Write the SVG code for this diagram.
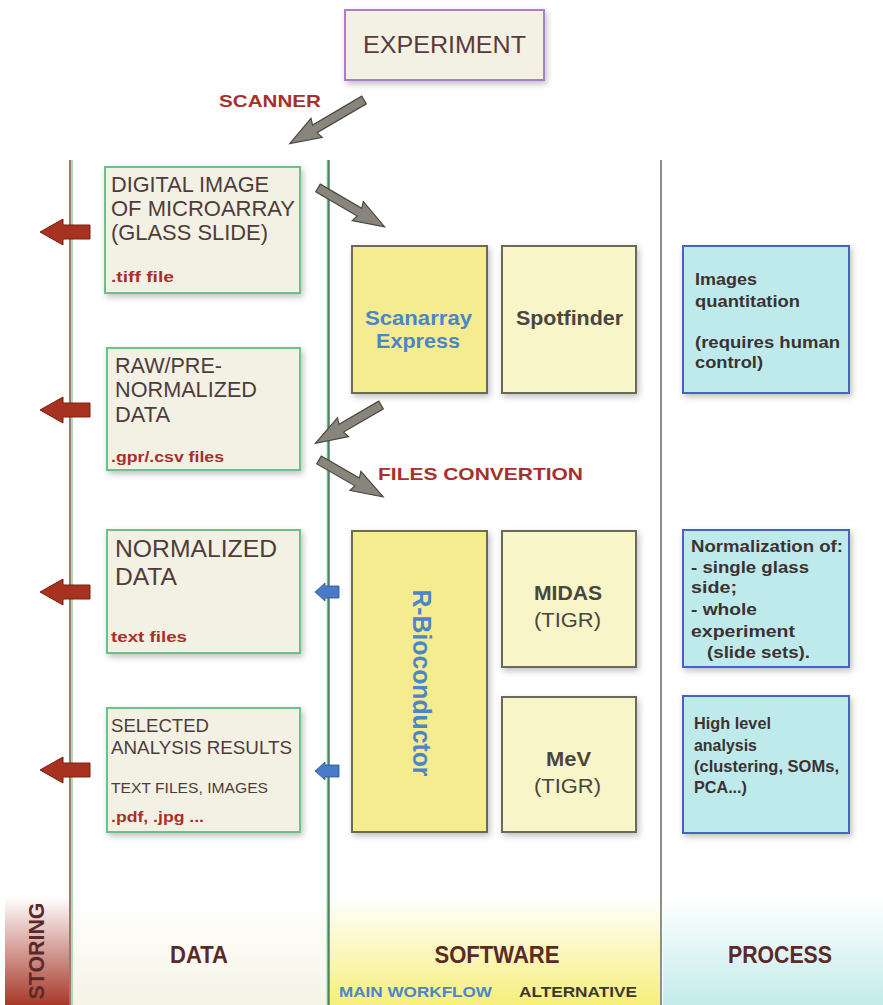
<svg xmlns="http://www.w3.org/2000/svg" width="883" height="1005" viewBox="0 0 883 1005">
<defs>
<style>
.t{font-family:"Liberation Sans",Arial,sans-serif;}
.data{fill:#f3f1e4;stroke:#6cc08a;stroke-width:2;filter:url(#sh);}
.sw{fill:#f5ec90;stroke:#6a6a58;stroke-width:2;filter:url(#sh);}
.sw2{fill:#f8f5c9;stroke:#6a6a58;stroke-width:2;filter:url(#sh);}
.pr{fill:#bfeaeb;stroke:#4a62c4;stroke-width:2;filter:url(#sh);}
.dt{font-size:21.5px;fill:#4e3c3c;}
.ext{font-size:15px;font-weight:bold;fill:#a8302a;}
.swt{font-size:21px;font-weight:bold;fill:#4a4540;}
.blue{fill:#4a86c8;}
.prt{font-size:16.5px;font-weight:bold;fill:#3c3232;}
.red{font-size:17px;font-weight:bold;fill:#a8302a;}
.garrow{fill:#8a857c;stroke:#4a4a44;stroke-width:1.2;}
.rarrow{fill:#a83220;stroke:#7a2010;stroke-width:1;}
.barrow{fill:#4a7ac8;stroke:#2a5090;stroke-width:0.8;}
.col{font-size:24px;font-weight:bold;fill:#5a2a2a;}
</style>
<filter id="sh" x="-10%" y="-10%" width="125%" height="125%">
<feDropShadow dx="2" dy="3" stdDeviation="3" flood-color="#000" flood-opacity="0.25"/>
</filter>
<linearGradient id="gStore" x1="0" y1="0" x2="0" y2="1">
<stop offset="0" stop-color="#ffffff"/><stop offset="1" stop-color="#a8382a"/>
</linearGradient>
<linearGradient id="gData" x1="0" y1="0" x2="0" y2="1">
<stop offset="0" stop-color="#ffffff"/><stop offset="1" stop-color="#f6f4e6"/>
</linearGradient>
<linearGradient id="gSoft" x1="0" y1="0" x2="0" y2="1">
<stop offset="0" stop-color="#ffffff"/><stop offset="1" stop-color="#f6ef7c"/>
</linearGradient>
<linearGradient id="gProc" x1="0" y1="0" x2="0" y2="1">
<stop offset="0" stop-color="#ffffff"/><stop offset="1" stop-color="#c4ebea"/>
</linearGradient>
</defs>
<rect width="883" height="1005" fill="#ffffff"/>

<g id="bands">
<rect x="5" y="897" width="64" height="108" fill="url(#gStore)"/>
<rect x="71" y="897" width="257" height="108" fill="url(#gData)"/>
<rect x="330" y="897" width="331" height="108" fill="url(#gSoft)"/>
<rect x="663" y="897" width="220" height="108" fill="url(#gProc)"/>
</g>

<g id="lanes">
<line x1="70" y1="160" x2="70" y2="1005" stroke="#9a7a68" stroke-width="2"/>
<line x1="72" y1="160" x2="72" y2="1005" stroke="#8fd0a0" stroke-width="1.5"/>
<line x1="328" y1="160" x2="328" y2="1005" stroke="#66c088" stroke-width="2.5"/>
<line x1="329" y1="160" x2="329" y2="1005" stroke="#2e4a3a" stroke-width="1"/>
<line x1="661" y1="160" x2="661" y2="1005" stroke="#8a908c" stroke-width="2"/>
</g>

<g id="experiment">
<rect x="345" y="10" width="199" height="70" fill="#f3f0e4" stroke="#b07cc8" stroke-width="2" filter="url(#sh)"/>
<text class="t" x="363" y="53" font-size="24" fill="#5a3a3a" textLength="163" lengthAdjust="spacingAndGlyphs">EXPERIMENT</text>
</g>

<g id="data1">
<rect class="data" x="105" y="167" width="195" height="126"/>
<text class="t dt" x="111" y="192" textLength="158" lengthAdjust="spacingAndGlyphs">DIGITAL IMAGE</text>
<text class="t dt" x="111" y="216" textLength="184" lengthAdjust="spacingAndGlyphs">OF MICROARRAY</text>
<text class="t dt" x="111" y="240" textLength="157" lengthAdjust="spacingAndGlyphs">(GLASS SLIDE)</text>
<text class="t ext" x="111" y="282" textLength="63" lengthAdjust="spacingAndGlyphs">.tiff file</text>
</g>
<g id="data2">
<rect class="data" x="107" y="348" width="193" height="122"/>
<text class="t dt" x="115" y="373" textLength="107" lengthAdjust="spacingAndGlyphs">RAW/PRE-</text>
<text class="t dt" x="115" y="397" textLength="142" lengthAdjust="spacingAndGlyphs">NORMALIZED</text>
<text class="t dt" x="115" y="422" textLength="55" lengthAdjust="spacingAndGlyphs">DATA</text>
<text class="t ext" x="111" y="462" textLength="113" lengthAdjust="spacingAndGlyphs">.gpr/.csv files</text>
</g>
<g id="data3">
<rect class="data" x="107" y="530" width="193" height="123"/>
<text class="t" x="115" y="557" font-size="23" fill="#4e3c3c" textLength="162" lengthAdjust="spacingAndGlyphs">NORMALIZED</text>
<text class="t" x="115" y="585" font-size="23" fill="#4e3c3c" textLength="62" lengthAdjust="spacingAndGlyphs">DATA</text>
<text class="t ext" x="111" y="642" textLength="76" lengthAdjust="spacingAndGlyphs">text files</text>
</g>
<g id="data4">
<rect class="data" x="107" y="708" width="193" height="124"/>
<text class="t" x="111" y="732" font-size="18" fill="#4e3c3c" textLength="98" lengthAdjust="spacingAndGlyphs">SELECTED</text>
<text class="t" x="111" y="754" font-size="18" fill="#4e3c3c" textLength="181" lengthAdjust="spacingAndGlyphs">ANALYSIS RESULTS</text>
<text class="t" x="111" y="793" font-size="15" fill="#4e3c3c" textLength="157" lengthAdjust="spacingAndGlyphs">TEXT FILES, IMAGES</text>
<text class="t ext" x="111" y="822" textLength="93" lengthAdjust="spacingAndGlyphs">.pdf, .jpg ...</text>
</g>

<g id="scanarray">
<rect class="sw" x="352" y="246" width="135" height="147"/>
<text class="t swt blue" x="365" y="325" textLength="107" lengthAdjust="spacingAndGlyphs">Scanarray</text>
<text class="t swt blue" x="376" y="348" textLength="84" lengthAdjust="spacingAndGlyphs">Express</text>
</g>
<g id="spotfinder">
<rect class="sw2" x="502" y="246" width="134" height="147"/>
<text class="t swt" x="516" y="325" textLength="107" lengthAdjust="spacingAndGlyphs">Spotfinder</text>
</g>
<g id="rbioconductor">
<rect class="sw" x="352" y="531" width="135" height="301"/>
<text class="t blue" x="0" y="0" font-size="25" font-weight="bold" text-anchor="middle" textLength="187" lengthAdjust="spacingAndGlyphs" transform="translate(413,683) rotate(90)">R-Bioconductor</text>
</g>
<g id="midas">
<rect class="sw2" x="502" y="531" width="134" height="136"/>
<text class="t swt" x="534" y="600" textLength="68" lengthAdjust="spacingAndGlyphs">MIDAS</text>
<text class="t" x="534" y="627" font-size="21" fill="#4a4540" textLength="67" lengthAdjust="spacingAndGlyphs">(TIGR)</text>
</g>
<g id="mev">
<rect class="sw2" x="502" y="697" width="134" height="135"/>
<text class="t swt" x="546" y="766" textLength="45" lengthAdjust="spacingAndGlyphs">MeV</text>
<text class="t" x="534" y="793" font-size="21" fill="#4a4540" textLength="67" lengthAdjust="spacingAndGlyphs">(TIGR)</text>
</g>

<g id="proc1">
<rect class="pr" x="683" y="246" width="166" height="147"/>
<text class="t prt" x="695" y="285" textLength="62" lengthAdjust="spacingAndGlyphs">Images</text>
<text class="t prt" x="695" y="307" textLength="105" lengthAdjust="spacingAndGlyphs">quantitation</text>
<text class="t prt" x="695" y="348" textLength="145" lengthAdjust="spacingAndGlyphs">(requires human</text>
<text class="t prt" x="695" y="368" textLength="68" lengthAdjust="spacingAndGlyphs">control)</text>
</g>
<g id="proc2">
<rect class="pr" x="683" y="530" width="166" height="137"/>
<text class="t prt" x="691" y="552" textLength="152" lengthAdjust="spacingAndGlyphs">Normalization of:</text>
<text class="t prt" x="691" y="573" textLength="118" lengthAdjust="spacingAndGlyphs">- single glass</text>
<text class="t prt" x="691" y="593" textLength="46" lengthAdjust="spacingAndGlyphs">side;</text>
<text class="t prt" x="691" y="615" textLength="66" lengthAdjust="spacingAndGlyphs">- whole</text>
<text class="t prt" x="691" y="637" textLength="104" lengthAdjust="spacingAndGlyphs">experiment</text>
<text class="t prt" x="707" y="658" textLength="103" lengthAdjust="spacingAndGlyphs">(slide sets).</text>
</g>
<g id="proc3">
<rect class="pr" x="683" y="696" width="166" height="137"/>
<text class="t prt" x="694" y="729" textLength="77" lengthAdjust="spacingAndGlyphs">High level</text>
<text class="t prt" x="694" y="751" textLength="63" lengthAdjust="spacingAndGlyphs">analysis</text>
<text class="t prt" x="694" y="772" textLength="145" lengthAdjust="spacingAndGlyphs">(clustering, SOMs,</text>
<text class="t prt" x="694" y="793" textLength="53" lengthAdjust="spacingAndGlyphs">PCA...)</text>
</g>

<g id="labels">
<text class="t red" x="219" y="107" textLength="102" lengthAdjust="spacingAndGlyphs">SCANNER</text>
<text class="t red" x="378" y="480" textLength="205" lengthAdjust="spacingAndGlyphs">FILES CONVERTION</text>
</g>

<g id="connectors">
<path class="garrow" transform="translate(364,100) rotate(149.6)" d="M0,-4.5 L57,-4.5 L55,-11 L86,0 L55,11 L57,4.5 L0,4.5 Z"/>
<path class="garrow" transform="translate(318,188) rotate(30.2)" d="M0,-4.5 L48,-4.5 L46,-11 L77,0 L46,11 L48,4.5 L0,4.5 Z"/>
<path class="garrow" transform="translate(381,405) rotate(149.7)" d="M0,-4.5 L46,-4.5 L44,-11 L76,0 L44,11 L46,4.5 L0,4.5 Z"/>
<path class="garrow" transform="translate(319,460) rotate(29.9)" d="M0,-4.5 L44,-4.5 L42,-11 L74,0 L42,11 L44,4.5 L0,4.5 Z"/>
<path class="rarrow" d="M40,232 L63,219 L63,225 L90,225 L90,239 L63,239 L63,245 Z"/>
<path class="rarrow" d="M40,410 L63,397 L63,403 L90,403 L90,417 L63,417 L63,423 Z"/>
<path class="rarrow" d="M40,592 L63,579 L63,585 L90,585 L90,599 L63,599 L63,605 Z"/>
<path class="rarrow" d="M40,770 L63,757 L63,763 L90,763 L90,777 L63,777 L63,783 Z"/>
<path class="barrow" d="M315,592 L325,583 L325,586 L339,586 L339,598 L325,598 L325,601 Z"/>
<path class="barrow" d="M315,771 L325,762 L325,765 L339,765 L339,777 L325,777 L325,780 Z"/>
</g>

<g id="footer">
<text class="t" x="0" y="0" font-size="22" font-weight="bold" fill="#5a2a2a" text-anchor="middle" textLength="97" lengthAdjust="spacingAndGlyphs" transform="translate(44,951) rotate(-90)">STORING</text>
<text class="t col" x="199" y="963" text-anchor="middle" textLength="58" lengthAdjust="spacingAndGlyphs">DATA</text>
<text class="t col" x="497" y="963" text-anchor="middle" textLength="125" lengthAdjust="spacingAndGlyphs">SOFTWARE</text>
<text class="t col" x="780" y="963" text-anchor="middle" textLength="104" lengthAdjust="spacingAndGlyphs">PROCESS</text>
<text class="t" x="339" y="997" font-size="15" font-weight="bold" fill="#4a86c8" textLength="153" lengthAdjust="spacingAndGlyphs">MAIN WORKFLOW</text>
<text class="t" x="519" y="997" font-size="15" font-weight="bold" fill="#3a3a30" textLength="118" lengthAdjust="spacingAndGlyphs">ALTERNATIVE</text>
</g>
</svg>
